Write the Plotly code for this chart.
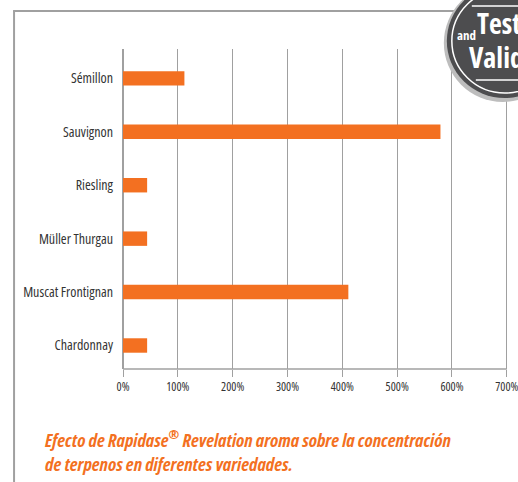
import plotly.graph_objects as go

categories = ["Chardonnay", "Muscat Frontignan", "Müller Thurgau", "Riesling", "Sauvignon", "Sémillon"]
values = [44, 411, 44, 44, 579, 112]
tick_vals = [0, 100, 200, 300, 400, 500, 600, 700]
tick_text = ["0%", "100%", "200%", "300%", "400%", "500%", "600%", "700%"]
caption_lines = ["Efecto de Rapidase<sup>®</sup> Revelation aroma sobre la concentración",
                 "de terpenos en diferentes variedades."]

W, H = 518, 482
XMAX = 704
PLOT_W = 384 * XMAX / 700
ML, MT, MB = 123, 49, 113
MR = W - ML - PLOT_W
ORANGE = "#F37021"
GRID = "#a0a0a0"
FONT = "Open Sans, DejaVu Sans Condensed, sans-serif"

def cond(t, stretch="condensed"):
    return f'<span style="font-stretch:{stretch}">{t}</span>'

def px(x):
    return (x - ML) / (W - ML - MR)

def py(y):
    return 1 - (y - MT) / (H - MT - MB)

fig = go.Figure()
fig.add_trace(go.Bar(
    y=categories, x=values, orientation="h",
    marker=dict(color=ORANGE, line=dict(width=0)),
    width=0.27,
))

shapes = []
shapes.append(dict(type="line", xref="paper", yref="paper", x0=px(14), x1=px(14), y0=py(11), y1=py(484),
                   line=dict(color=GRID, width=2), layer="below"))
shapes.append(dict(type="line", xref="paper", yref="paper", x0=px(13), x1=px(470), y0=py(11), y1=py(11),
                   line=dict(color=GRID, width=2), layer="below"))
# badge
shapes.append(dict(type="circle", xref="paper", yref="paper", x0=px(444), x1=px(562), y0=py(-16), y1=py(102),
                   fillcolor="#bdbdbd", line=dict(width=0), layer="above"))
shapes.append(dict(type="circle", xref="paper", yref="paper", x0=px(447), x1=px(563), y0=py(-16), y1=py(98),
                   fillcolor="#4d4d4f", line=dict(width=0), layer="above"))
shapes.append(dict(type="circle", xref="paper", yref="paper", x0=px(452), x1=px(558), y0=py(-11), y1=py(93),
                   fillcolor="rgba(0,0,0,0)", line=dict(color="white", width=1.5), layer="above"))
shapes.append(dict(type="line", xref="paper", yref="paper", x0=px(472), x1=px(520), y0=py(6), y1=py(6),
                   line=dict(color="white", width=1.5), layer="above"))
shapes.append(dict(type="line", xref="paper", yref="paper", x0=px(476), x1=px(520), y0=py(80), y1=py(80),
                   line=dict(color="white", width=1.5), layer="above"))

caption = "<br>".join(cond(f"<b><i>{ln}</i></b>", "semi-condensed") for ln in caption_lines)

annotations = [
    dict(text=caption, xref="paper", yref="paper", x=px(43), y=py(424), xanchor="left", yanchor="top",
         borderpad=0, showarrow=False, align="left", font=dict(family=FONT, size=18.5, color=ORANGE)),
    dict(text=cond("<b>Teste</b>"), xref="paper", yref="paper", x=px(476), y=py(23), xanchor="left",
         yanchor="middle", showarrow=False, borderpad=0, font=dict(family=FONT, size=28, color="white")),
    dict(text=cond("<b>and</b>"), xref="paper", yref="paper", x=px(456), y=py(35), xanchor="left",
         yanchor="middle", showarrow=False, borderpad=0, font=dict(family=FONT, size=13, color="white")),
    dict(text=cond("<b>Valida</b>"), xref="paper", yref="paper", x=px(468), y=py(57), xanchor="left",
         yanchor="middle", showarrow=False, borderpad=0, font=dict(family=FONT, size=28, color="white")),
]

fig.update_layout(
    width=W, height=H,
    margin=dict(l=ML, r=MR, t=MT, b=MB, pad=0),
    paper_bgcolor="white", plot_bgcolor="white",
    showlegend=False,
    xaxis=dict(range=[0, XMAX], tickvals=tick_vals, ticktext=[cond(t) for t in tick_text],
               showgrid=True, gridcolor=GRID, gridwidth=1.3,
               zeroline=True, zerolinecolor=GRID, zerolinewidth=1.5,
               showline=False,
               ticks="outside", ticklen=7, tickcolor=GRID, tickwidth=1.3,
               automargin=False, ticklabeloverflow="allow",
               tickfont=dict(family=FONT, size=12, color="#333333"), fixedrange=True),
    yaxis=dict(type="category", categoryorder="array", categoryarray=categories,
               tickvals=categories, ticktext=[cond(c) for c in categories],
               range=[-0.44, 5.55], showgrid=False, zeroline=False, showline=False,
               ticks="", ticklabelstandoff=9, automargin=False,
               tickfont=dict(family=FONT, size=14, color="#333333"), fixedrange=True),
    shapes=shapes,
    annotations=annotations,
)
fig.add_shape(type="line", xref="x", yref="paper", x0=tick_vals[0], x1=tick_vals[-1], y0=0, y1=0,
              line=dict(color=GRID, width=1.5), layer="above")

fig.write_html("out.html", config={"displayModeBar": False},
               post_script="document.body.style.margin='0';document.body.style.overflow='hidden';")
